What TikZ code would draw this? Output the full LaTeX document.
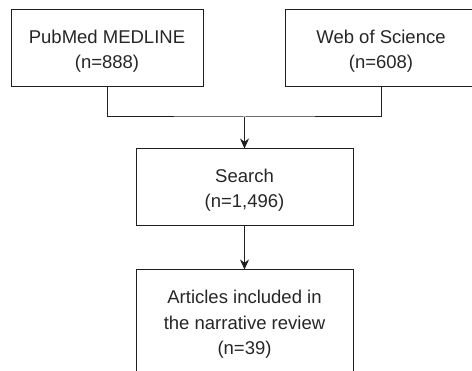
\documentclass[tikz,border=0pt]{standalone}
\usepackage{fontspec}
\setmainfont{Liberation Sans}
\usetikzlibrary{arrows.meta}
\begin{document}
\begin{tikzpicture}[x=1pt,y=-1pt,
  box/.style={draw=black!88, line width=1pt, inner sep=0pt},
  txt/.style={align=center, inner sep=0pt,
    font=\fontsize{18.5}{25.5}\selectfont, text=black!85},
  conn/.style={draw=black!88, line width=1pt},
  arr/.style={conn, -{Stealth[length=10pt,width=9pt]}}]
\useasboundingbox (0,0) rectangle (472,371);
\clip (0,0) rectangle (472,371);
\node[box, minimum width=192pt, minimum height=77pt] (pub) at (107,48.5) {};
\node[box, minimum width=192pt, minimum height=77pt] (wos) at (381,48.5) {};
\node[box, minimum width=217pt, minimum height=77pt] (search) at (244.5,187.5) {};
\node[box, minimum width=217pt, minimum height=107pt] (art) at (244.5,323.5) {};
\node[txt] (pubt) at ([yshift=-2.5pt]pub.center) {PubMed MEDLINE\\(n=888)};
\node[txt] (wost) at ([yshift=-2.5pt]wos.center) {Web of Science\\(n=608)};
\node[txt] (searcht) at ([yshift=-2.5pt]search.center) {Search\\(n=1,496)};
\node[txt] (artt) at ([yshift=-1pt]art.center) {Articles included in\\the narrative review\\(n=39)};
\coordinate (j) at (244.5,117);
\draw[conn] (pub.south) |- (j) -| (wos.south);
\draw[arr] (j) -- (search.north);
\draw[arr] (search.south) -- (art.north);
\end{tikzpicture}
\end{document}
